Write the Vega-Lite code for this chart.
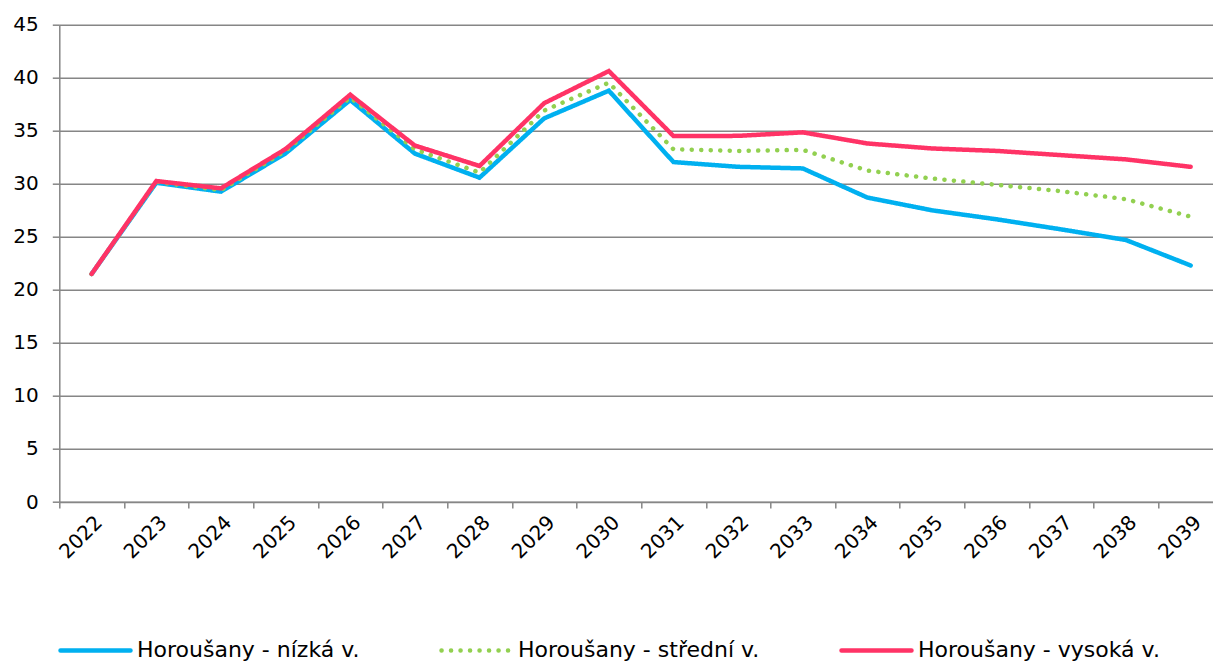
{
  "$schema": "https://vega.github.io/schema/vega-lite/v6.json",
  "autosize": {"type": "none"},
  "width": 1153.7,
  "height": 477.3,
  "padding": {"left": 59.3, "top": 24.7, "right": 0, "bottom": 159},
  "background": "white",
  "config": {
    "view": {"stroke": null},
    "font": "DejaVu Sans",
    "axis": {"labelFont": "DejaVu Sans", "labelColor": "#000000", "domainColor": "#868686", "tickColor": "#868686", "domainWidth": 1.5, "tickWidth": 1.5, "gridColor": "#868686", "gridWidth": 1.5, "gridOpacity": 1, "title": null},
    "legend": {"labelFont": "DejaVu Sans", "labelFontSize": 22, "labelColor": "#000000", "padding": 0, "labelLimit": 500}
  },
  "data": {
    "values": [
      {"year": "2022", "series": "Horoušany - nízká v.", "value": 21.5},
      {"year": "2023", "series": "Horoušany - nízká v.", "value": 30.1},
      {"year": "2024", "series": "Horoušany - nízká v.", "value": 29.26},
      {"year": "2025", "series": "Horoušany - nízká v.", "value": 32.87},
      {"year": "2026", "series": "Horoušany - nízká v.", "value": 37.9},
      {"year": "2027", "series": "Horoušany - nízká v.", "value": 32.85},
      {"year": "2028", "series": "Horoušany - nízká v.", "value": 30.58},
      {"year": "2029", "series": "Horoušany - nízká v.", "value": 36.17},
      {"year": "2030", "series": "Horoušany - nízká v.", "value": 38.78},
      {"year": "2031", "series": "Horoušany - nízká v.", "value": 32.05},
      {"year": "2032", "series": "Horoušany - nízká v.", "value": 31.6},
      {"year": "2033", "series": "Horoušany - nízká v.", "value": 31.45},
      {"year": "2034", "series": "Horoušany - nízká v.", "value": 28.7},
      {"year": "2035", "series": "Horoušany - nízká v.", "value": 27.5},
      {"year": "2036", "series": "Horoušany - nízká v.", "value": 26.65},
      {"year": "2037", "series": "Horoušany - nízká v.", "value": 25.7},
      {"year": "2038", "series": "Horoušany - nízká v.", "value": 24.7},
      {"year": "2039", "series": "Horoušany - nízká v.", "value": 22.3},
      {"year": "2022", "series": "Horoušany - střední v.", "value": 21.5},
      {"year": "2023", "series": "Horoušany - střední v.", "value": 30.18},
      {"year": "2024", "series": "Horoušany - střední v.", "value": 29.4},
      {"year": "2025", "series": "Horoušany - střední v.", "value": 33.1},
      {"year": "2026", "series": "Horoušany - střední v.", "value": 38.15},
      {"year": "2027", "series": "Horoušany - střední v.", "value": 33.25},
      {"year": "2028", "series": "Horoušany - střední v.", "value": 31.05},
      {"year": "2029", "series": "Horoušany - střední v.", "value": 36.9},
      {"year": "2030", "series": "Horoušany - střední v.", "value": 39.53},
      {"year": "2031", "series": "Horoušany - střední v.", "value": 33.25},
      {"year": "2032", "series": "Horoušany - střední v.", "value": 33.1},
      {"year": "2033", "series": "Horoušany - střední v.", "value": 33.2},
      {"year": "2034", "series": "Horoušany - střední v.", "value": 31.25},
      {"year": "2035", "series": "Horoušany - střední v.", "value": 30.5},
      {"year": "2036", "series": "Horoušany - střední v.", "value": 29.9},
      {"year": "2037", "series": "Horoušany - střední v.", "value": 29.3},
      {"year": "2038", "series": "Horoušany - střední v.", "value": 28.55},
      {"year": "2039", "series": "Horoušany - střední v.", "value": 26.9},
      {"year": "2022", "series": "Horoušany - vysoká v.", "value": 21.5},
      {"year": "2023", "series": "Horoušany - vysoká v.", "value": 30.26},
      {"year": "2024", "series": "Horoušany - vysoká v.", "value": 29.57},
      {"year": "2025", "series": "Horoušany - vysoká v.", "value": 33.28},
      {"year": "2026", "series": "Horoušany - vysoká v.", "value": 38.4},
      {"year": "2027", "series": "Horoušany - vysoká v.", "value": 33.6},
      {"year": "2028", "series": "Horoušany - vysoká v.", "value": 31.68},
      {"year": "2029", "series": "Horoušany - vysoká v.", "value": 37.6},
      {"year": "2030", "series": "Horoušany - vysoká v.", "value": 40.63},
      {"year": "2031", "series": "Horoušany - vysoká v.", "value": 34.5},
      {"year": "2032", "series": "Horoušany - vysoká v.", "value": 34.52},
      {"year": "2033", "series": "Horoušany - vysoká v.", "value": 34.85},
      {"year": "2034", "series": "Horoušany - vysoká v.", "value": 33.8},
      {"year": "2035", "series": "Horoušany - vysoká v.", "value": 33.33},
      {"year": "2036", "series": "Horoušany - vysoká v.", "value": 33.1},
      {"year": "2037", "series": "Horoušany - vysoká v.", "value": 32.7},
      {"year": "2038", "series": "Horoušany - vysoká v.", "value": 32.3},
      {"year": "2039", "series": "Horoušany - vysoká v.", "value": 31.6}
    ]
  },
  "mark": {"type": "line", "strokeWidth": 4.5, "strokeCap": "round", "strokeJoin": "miter"},
  "encoding": {
    "x": {
      "field": "year", "type": "ordinal",
      "scale": {"type": "band", "paddingInner": 0, "paddingOuter": 0, "range": [0, 1163.7]},
      "axis": {"labelAngle": -45, "tickBand": "extent", "grid": false, "tickSize": 6, "labelFontSize": 20, "labelPadding": 4}
    },
    "y": {
      "field": "value", "type": "quantitative",
      "scale": {"domain": [0, 45], "nice": false, "zero": true},
      "axis": {"values": [0, 5, 10, 15, 20, 25, 30, 35, 40, 45], "grid": true, "tickSize": 7, "labelPadding": 14, "labelFontSize": 20}
    },
    "color": {
      "field": "series", "type": "nominal",
      "scale": {"domain": ["Horoušany - nízká v.", "Horoušany - střední v.", "Horoušany - vysoká v."], "range": ["#00B0F0", "#92D050", "#FF3366"]},
      "legend": {
        "title": null, "orient": "none", "direction": "horizontal", "legendX": -1.3, "legendY": 588,
        "symbolType": "stroke", "symbolSize": 4900, "symbolStrokeWidth": 4.5, "labelOffset": 4, "columnPadding": 72, "labelLimit": 500,
        "encode": {"symbols": {"update": {"strokeCap": {"value": "round"}}}}
      }
    },
    "strokeDash": {
      "field": "series", "type": "nominal",
      "scale": {"domain": ["Horoušany - nízká v.", "Horoušany - střední v.", "Horoušany - vysoká v."], "range": [[1, 0], [0.1, 9.4], [1, 0]]},
      "legend": {
        "title": null, "orient": "none", "direction": "horizontal", "legendX": -1.3, "legendY": 588,
        "symbolType": "stroke", "symbolSize": 4900, "symbolStrokeWidth": 4.5, "labelOffset": 4, "columnPadding": 72, "labelLimit": 500,
        "encode": {"symbols": {"update": {"strokeCap": {"value": "round"}}}}
      }
    }
  }
}
